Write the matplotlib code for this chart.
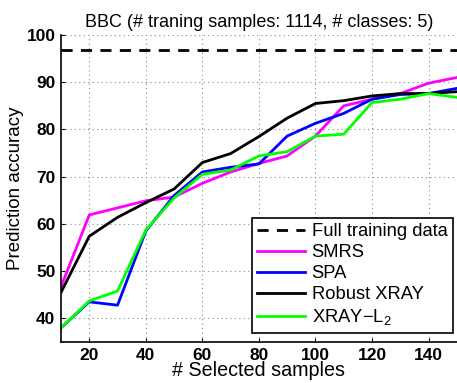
import matplotlib
matplotlib.use('Agg')
import matplotlib.pyplot as plt

plt.rcParams['font.family'] = ['Liberation Sans', 'DejaVu Sans']
plt.rcParams['mathtext.fontset'] = 'custom'
plt.rcParams['mathtext.rm'] = 'Liberation Sans'

# number of selected samples
n_samples = [10, 20, 30, 40, 50, 60, 70, 80, 90, 100, 110, 120, 130, 140, 150]
full_data = 96.8
smrs = [46.7, 61.9, 63.4, 64.9, 65.7, 68.6, 71.0, 72.8, 74.4, 78.6, 85.0, 86.4, 87.6, 89.8, 91.0]
spa = [38.0, 43.5, 42.8, 58.5, 66.0, 71.0, 72.0, 72.7, 78.6, 81.3, 83.4, 86.4, 87.4, 87.6, 88.7]
robust_xray = [45.5, 57.4, 61.4, 64.5, 67.4, 73.0, 74.9, 78.5, 82.4, 85.5, 86.1, 87.1, 87.6, 87.6, 88.0]
xray_l2 = [38.0, 43.7, 45.8, 58.7, 65.5, 70.5, 71.4, 74.4, 75.3, 78.6, 79.0, 85.7, 86.4, 87.6, 86.8]

fig = plt.figure(figsize=(4.57, 3.83), dpi=100)
ax = fig.add_axes([0.1335, 0.107, 0.866, 0.8016])

ax.axhline(full_data, color='black', linestyle='--', dashes=(4, 3), lw=2, label='Full training data')
ax.plot(n_samples, smrs, color='#ff00ff', lw=2, label='SMRS')
ax.plot(n_samples, spa, color='#0000ff', lw=2, label='SPA')
ax.plot(n_samples, robust_xray, color='black', lw=2, label='Robust XRAY')
ax.plot(n_samples, xray_l2, color='#00ff00', lw=2, label='XRAY$-$L$_2$')

ax.set_xlim(10, 150)
ax.set_ylim(35, 100)
ax.set_xticks([20, 40, 60, 80, 100, 120, 140])
ax.set_yticks([40, 50, 60, 70, 80, 90, 100])
ax.grid(True, color='#888888', linestyle=(0, (1, 3)), lw=0.8)
ax.tick_params(direction='in', length=3, labelsize=12.5, pad=4)
for lab in ax.get_xticklabels() + ax.get_yticklabels():
    lab.set_fontweight('bold')
ax.spines['top'].set_visible(False)
ax.spines['right'].set_visible(False)
ax.spines['left'].set_linewidth(1.2)
ax.spines['bottom'].set_linewidth(1.2)

ax.set_xlabel('# Selected samples', fontsize=14.2, labelpad=-1)
ax.set_ylabel('Prediction accuracy', fontsize=13.5, labelpad=1.5)
ax.set_title('BBC (# traning samples: 1114, # classes: 5)', fontsize=13, pad=6)

leg = ax.legend(loc='lower right', fontsize=13.2, fancybox=False, framealpha=1,
                edgecolor='black', handlelength=2.6, handletextpad=0.35, borderpad=0.3,
                labelspacing=0.22, borderaxespad=0, bbox_to_anchor=(0.99, 0.03))
leg.get_frame().set_linewidth(1.2)

fig.savefig('out.png', dpi=100)
